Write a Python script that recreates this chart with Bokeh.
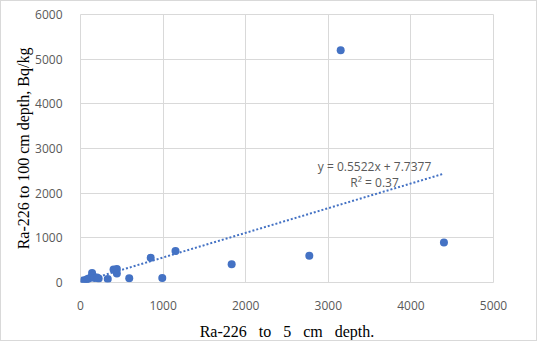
from bokeh.plotting import figure
from bokeh.models import Label, FixedTicker, ColumnDataSource
from bokeh.embed import file_html
from bokeh.resources import INLINE

# data
ra_5cm = [40, 50, 60, 80, 100, 130, 140, 150, 170, 200, 220, 330, 400, 440, 440,
          590, 850, 990, 1150, 1830, 2770, 3150, 4400]
ra_100cm = [50, 30, 40, 70, 90, 120, 210, 150, 100, 110, 90, 80, 290, 300, 200,
            95, 555, 100, 705, 410, 600, 5200, 895]
slope = 0.5522
intercept = 7.7377
r2 = 0.37
x_ticks = [0, 1000, 2000, 3000, 4000, 5000]
y_ticks = [0, 1000, 2000, 3000, 4000, 5000, 6000]

blue = "#4472C4"
grey_text = "#595959"
grid = "#d9d9d9"

p = figure(width=537, height=341, output_backend="svg", toolbar_location=None,
           x_range=(0, 5000), y_range=(0, 6000),
           min_border_left=79, min_border_top=13, min_border_right=45,
           min_border_bottom=58)
p.styles = {"border": "1px solid #d9d9d9"}

p.xgrid.grid_line_color = grid
p.ygrid.grid_line_color = grid
p.outline_line_color = grid
p.xaxis.ticker = FixedTicker(ticks=x_ticks)
p.yaxis.ticker = FixedTicker(ticks=y_ticks)
p.xgrid.ticker = FixedTicker(ticks=x_ticks)
p.ygrid.ticker = FixedTicker(ticks=y_ticks)

for ax in (p.xaxis, p.yaxis):
    ax.axis_line_color = None
    ax.major_tick_line_color = None
    ax.minor_tick_line_color = None
    ax.major_label_text_font = "Open Sans"
    ax.major_label_text_font_size = "12px"
    ax.major_label_text_color = grey_text
    ax.major_label_standoff = 12
    ax.axis_label_text_font = "Liberation Serif"
    ax.axis_label_text_font_size = "16px"
    ax.axis_label_text_font_style = "normal"
    ax.axis_label_text_color = "#000000"

sp = "\u00a0\u00a0 "
p.xaxis.axis_label = f"Ra-226{sp}to{sp}5{sp}cm{sp}depth."
p.yaxis.axis_label = "Ra-226 to 100 cm depth, Bq/kg"
p.xaxis.axis_label_standoff = 10
p.yaxis.axis_label_standoff = 0

# trend line across the data range
x0, x1 = min(ra_5cm), max(ra_5cm)
p.line([x0, x1], [slope * x0 + intercept, slope * x1 + intercept],
       line_color=blue, line_width=2, line_dash="2 2")

src = ColumnDataSource(dict(x=ra_5cm, y=ra_100cm))
p.scatter("x", "y", source=src, size=8, fill_color=blue, line_color=None)

eq = Label(x=3560, y=2600, text=f"y = {slope}x + {intercept}",
           text_align="center", text_baseline="middle",
           text_font="Open Sans", text_font_size="12px", text_color=grey_text)
r2_label = Label(x=3560, y=2231, text=f"R² = {r2}",
                 text_align="center", text_baseline="middle",
                 text_font="Open Sans", text_font_size="12px", text_color=grey_text)
p.add_layout(eq)
p.add_layout(r2_label)

open("out.html", "w").write(file_html(p, INLINE))
